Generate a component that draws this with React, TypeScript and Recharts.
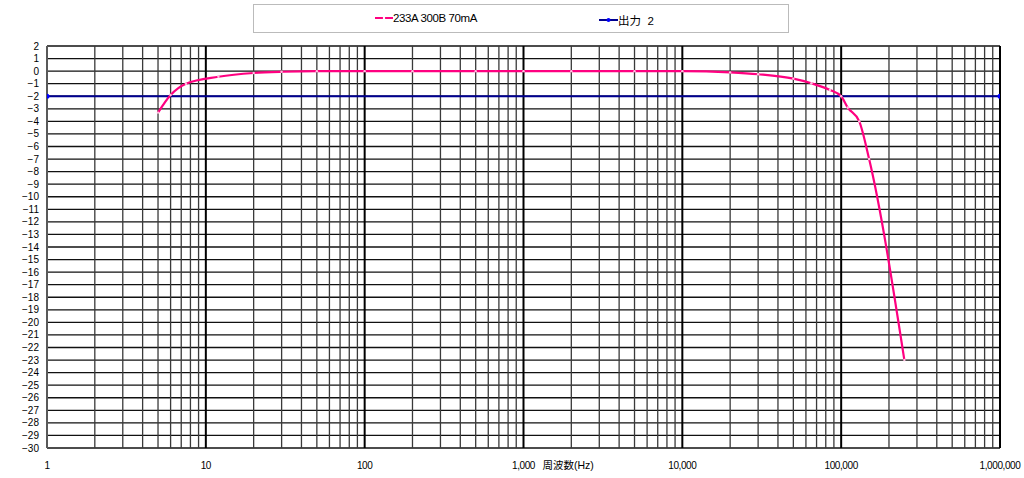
import { LineChart, Line, XAxis, YAxis, CartesianGrid, ReferenceLine } from 'recharts';

// 233A 300B 70mA frequency response (Hz, dB)
const freqs = [5, 6, 7.5, 12, 20, 30, 50, 100, 200, 500, 1000, 2000, 5000, 10000, 20000, 30000, 50000, 65000, 85000, 100000, 110000, 130000, 150000, 250000];
const gains = [-3.3, -1.9, -1.0, -0.45, -0.15, -0.05, 0, 0, 0, 0, 0, 0, 0, 0, -0.1, -0.25, -0.6, -0.97, -1.5, -2.0, -2.9, -4.0, -7.0, -23.0];

// 出力 2 reference line
const refFreqs = [1, 1000000];
const refLevels = [-2, -2];

const xTicks = [1, 10, 100, 1000, 10000, 100000, 1000000];
const minorSteps = [2, 3, 4, 5, 6, 7, 8, 9];
const yTicks = [2, 1, 0, -1, -2, -3, -4, -5, -6, -7, -8, -9, -10, -11, -12, -13, -14, -15, -16, -17, -18, -19, -20, -21, -22, -23, -24, -25, -26, -27, -28, -29, -30];

const seriesName = '233A 300B 70mA';
const refName = '出力\u00a0\u00a02';

const PINK = '#FF0080';
const NAVY = '#000090';
const FONT = '"Liberation Sans", Arial, "Noto Sans CJK JP", sans-serif';

const mainData = freqs.map((f, i) => ({ f, v: gains[i] }));
const refData = refFreqs.map((f, i) => ({ f, v: refLevels[i] }));
const minorLines = xTicks.slice(0, -1).flatMap(d => minorSteps.map(m => d * m));

const fmtX = (v: number) => v.toLocaleString('en-US');
const fmtY = (v: number) => String(v).replace('-', '−');

function XTick(props: any) {
  const { x, y, payload } = props;
  return (
    <g>
      <text x={x} y={y + 13} textAnchor="middle" fontSize={10} letterSpacing={-0.4} fill="#000" fontFamily={FONT}>
        {fmtX(payload.value)}
      </text>
      {payload.value === 1000 && (
        <text x={x + 19} y={y + 13} textAnchor="start" fontSize={10.5} fill="#000" fontFamily={FONT}>
          周波数(Hz)
        </text>
      )}
    </g>
  );
}

function LegendBox() {
  return (
    <div
      style={{
        position: 'absolute',
        left: 253,
        top: 4,
        width: 534,
        height: 27,
        border: '1px solid #bbb',
        background: '#fff',
        fontFamily: FONT,
        fontSize: 11.5,
        letterSpacing: -0.4,
        color: '#000',
      }}
    >
      <div style={{ position: 'absolute', left: 121, top: 7, display: 'flex', alignItems: 'center' }}>
        <svg width={18} height={8}>
          <line x1={0} y1={4} x2={18} y2={4} stroke={PINK} strokeWidth={2} />
          <circle cx={9} cy={4} r={1.2} fill="#fff" />
        </svg>
        <span>{seriesName}</span>
      </div>
      <div style={{ position: 'absolute', left: 345, top: 7, display: 'flex', alignItems: 'center' }}>
        <svg width={19} height={8}>
          <line x1={0} y1={4} x2={19} y2={4} stroke={NAVY} strokeWidth={2} />
          <circle cx={9.5} cy={4} r={2} fill="#0000ff" />
        </svg>
        <span style={{ letterSpacing: 0 }}>{refName}</span>
      </div>
    </div>
  );
}

export default function App() {
  return (
    <div style={{ position: 'absolute', left: 0, top: 0, width: 1024, height: 478, background: '#fff' }}>
      <LineChart width={1024} height={478} margin={{ top: 46, right: 24, left: 7, bottom: 0 }}>
        <CartesianGrid vertical={false} stroke="#111" strokeWidth={1.3} />
        <XAxis
          dataKey="f"
          type="number"
          scale="log"
          domain={[1, 1000000]}
          ticks={xTicks}
          allowDataOverflow
          height={30}
          axisLine={false}
          tickLine={false}
          tick={<XTick />}
          interval={0}
        />
        <YAxis
          type="number"
          domain={[-30, 2]}
          ticks={yTicks}
          interval={0}
          width={40}
          axisLine={{ stroke: '#777', strokeWidth: 1.5 }}
          tickLine={false}
          tickFormatter={fmtY}
          tick={{ fontSize: 10, fill: '#000', fontFamily: FONT }}
        />
        {minorLines.map(v => (
          <ReferenceLine key={'m' + v} x={v} stroke="#3a3a3a" strokeWidth={1.3} />
        ))}
        {xTicks.map(v => (
          <ReferenceLine key={'d' + v} x={v} stroke="#000" strokeWidth={2} />
        ))}
        <Line
          data={refData}
          dataKey="v"
          type="linear"
          stroke={NAVY}
          strokeWidth={2}
          dot={{ r: 2.5, fill: '#0000ff', stroke: '#0000ff', strokeWidth: 0 }}
          isAnimationActive={false}
        />
        <Line
          data={mainData}
          dataKey="v"
          type="monotone"
          stroke={PINK}
          strokeWidth={2.2}
          dot={{ r: 1.2, fill: '#ffc0e0', stroke: 'none' }}
          isAnimationActive={false}
        />
      </LineChart>
      <LegendBox />
    </div>
  );
}
